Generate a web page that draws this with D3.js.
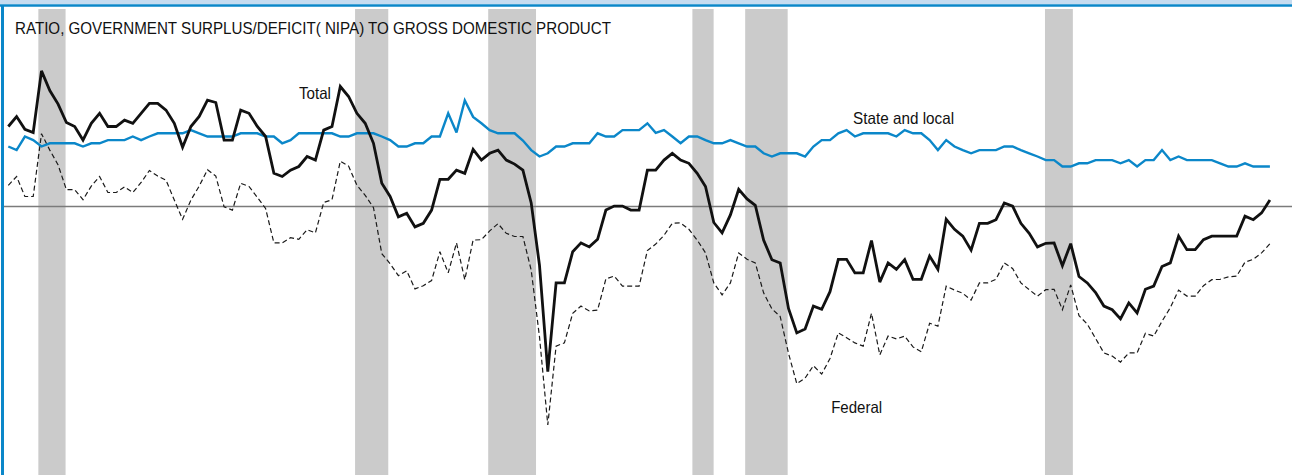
<!DOCTYPE html>
<html>
<head>
<meta charset="utf-8">
<script src="https://cdn.jsdelivr.net/npm/d3@7/dist/d3.min.js"></script>
<style>
  body { margin: 0; background: #fff; }
  svg { display: block; font-family: "Liberation Sans", Arial, Helvetica, sans-serif; }
</style>
</head>
<body>
<div id="chart"></div>
<script>
// quarterly ratios (percent of GDP), 1959Q2 .. 1997Q2, points at mid-quarter
var firstQuarterMid = 1959.375;

var totalValues = [
  2.00, 2.25, 1.93, 1.85, 3.39, 2.90, 2.56, 2.10, 2.00, 1.66,
  2.08, 2.33, 2.00, 2.00, 2.16, 2.08, 2.33, 2.58, 2.58, 2.41,
  2.08, 1.48, 2.00, 2.25, 2.66, 2.60, 1.66, 1.66, 2.41, 2.33,
  2.00, 1.75, 0.83, 0.75, 0.91, 1.00, 1.25, 1.16, 1.91, 2.00,
  3.00, 2.75, 2.33, 2.08, 1.58, 0.58, 0.25, -0.26, -0.17, -0.51,
  -0.42, -0.09, 0.68, 0.68, 0.91, 0.83, 1.43, 1.16, 1.33, 1.41,
  1.16, 1.06, 0.91, 0.09, -1.47, -4.13, -1.91, -1.91, -1.13, -0.91,
  -1.01, -0.82, -0.09, 0.01, 0.01, -0.09, -0.09, 0.91, 0.91, 1.16,
  1.33, 1.16, 1.08, 0.83, 0.50, -0.40, -0.66, -0.21, 0.43, 0.19,
  0.03, -0.84, -1.33, -1.41, -2.55, -3.16, -3.06, -2.49, -2.57, -2.13,
  -1.32, -1.32, -1.66, -1.66, -0.85, -1.89, -1.41, -1.57, -1.33, -1.82,
  -1.82, -1.24, -1.57, -0.32, -0.57, -0.74, -1.09, -0.42, -0.42, -0.33,
  0.09, 0.01, -0.42, -0.67, -1.01, -0.92, -0.91, -1.48, -0.93, -1.75,
  -1.91, -2.15, -2.49, -2.58, -2.81, -2.41, -2.66, -2.07, -1.99, -1.50,
  -1.41, -0.74, -1.08, -1.08, -0.83, -0.74, -0.74, -0.74, -0.74, -0.24,
  -0.33, -0.16, 0.16
];

var stateLocalValues = [
  1.50, 1.41, 1.75, 1.66, 1.50, 1.58, 1.58, 1.58, 1.58, 1.50,
  1.58, 1.58, 1.66, 1.66, 1.66, 1.75, 1.66, 1.75, 1.83, 1.83,
  1.83, 1.83, 1.91, 1.83, 1.75, 1.75, 1.75, 1.75, 1.83, 1.83,
  1.83, 1.75, 1.75, 1.58, 1.66, 1.83, 1.83, 1.83, 1.83, 1.83,
  1.75, 1.75, 1.83, 1.83, 1.83, 1.75, 1.66, 1.50, 1.50, 1.58,
  1.58, 1.75, 1.75, 2.33, 1.85, 2.65, 2.24, 2.08, 1.91, 1.83,
  1.83, 1.83, 1.65, 1.41, 1.25, 1.33, 1.50, 1.50, 1.58, 1.58,
  1.58, 1.83, 1.75, 1.75, 1.91, 1.91, 1.91, 2.08, 1.84, 1.91,
  1.75, 1.58, 1.75, 1.75, 1.66, 1.58, 1.58, 1.66, 1.58, 1.50,
  1.50, 1.33, 1.25, 1.33, 1.33, 1.33, 1.25, 1.50, 1.66, 1.66,
  1.83, 1.91, 1.75, 1.83, 1.83, 1.83, 1.83, 1.75, 1.91, 1.83,
  1.83, 1.66, 1.41, 1.66, 1.50, 1.41, 1.33, 1.41, 1.41, 1.41,
  1.50, 1.50, 1.41, 1.33, 1.25, 1.16, 1.16, 1.00, 1.00, 1.08,
  1.08, 1.16, 1.16, 1.16, 1.08, 1.16, 1.00, 1.16, 1.16, 1.41,
  1.16, 1.25, 1.16, 1.16, 1.16, 1.16, 1.08, 1.00, 1.00, 1.08,
  1.00, 1.00, 1.00
];

var federalValues = [
  0.53, 0.75, 0.25, 0.25, 1.82, 1.41, 1.04, 0.42, 0.42, 0.17,
  0.51, 0.75, 0.35, 0.35, 0.49, 0.35, 0.60, 0.90, 0.76, 0.66,
  0.16, -0.32, 0.16, 0.51, 0.92, 0.76, -0.01, -0.09, 0.58, 0.50,
  0.23, -0.05, -0.91, -0.91, -0.78, -0.82, -0.58, -0.66, 0.10, 0.17,
  1.13, 1.01, 0.53, 0.28, -0.03, -1.18, -1.43, -1.73, -1.61, -2.06,
  -1.98, -1.85, -1.13, -1.66, -0.91, -1.83, -0.84, -0.83, -0.61, -0.43,
  -0.67, -0.75, -0.75, -1.59, -3.26, -5.46, -3.49, -3.41, -2.67, -2.49,
  -2.61, -2.59, -1.81, -1.74, -1.99, -1.99, -1.99, -1.10, -0.94, -0.72,
  -0.42, -0.41, -0.57, -0.84, -1.16, -1.91, -2.21, -1.91, -1.16, -1.32,
  -1.41, -2.16, -2.56, -2.75, -3.67, -4.43, -4.29, -3.98, -4.19, -3.80,
  -3.16, -3.28, -3.41, -3.49, -2.67, -3.71, -3.24, -3.31, -3.24, -3.51,
  -3.63, -2.92, -2.99, -1.99, -2.09, -2.17, -2.34, -1.91, -1.91, -1.82,
  -1.41, -1.55, -1.91, -2.08, -2.24, -2.08, -2.07, -2.58, -1.96, -2.73,
  -2.94, -3.30, -3.66, -3.74, -3.89, -3.66, -3.66, -3.17, -3.24, -2.87,
  -2.53, -2.09, -2.24, -2.24, -1.98, -1.83, -1.82, -1.76, -1.74, -1.39,
  -1.32, -1.16, -0.93
];

// recessions, decimal years
var recessionStart = [1960.28, 1969.82, 1973.83, 1979.98, 1981.57, 1990.60];
var recessionEnd   = [1961.10, 1970.82, 1975.27, 1980.62, 1982.85, 1991.44];

var titleText = "RATIO, GOVERNMENT SURPLUS/DEFICIT( NIPA) TO GROSS DOMESTIC PRODUCT";
var labelText = ["Total", "State and local", "Federal"];
var labelYear = [1968.13, 1984.82, 1984.16];
var labelValue = [2.69, 2.075, -5.16];
var labelWidth = [32, 101, 51];

var width = 1292, height = 475;
var blue = "#0b87c9";

var quarters = totalValues.map(function(d, i){ return firstQuarterMid + i * 0.25; });

var x = d3.scaleLinear().domain([1959, 1998]).range([-4.15, 1290.65]);
var y = d3.scaleLinear().domain([-6, 5]).range([446.5, 6.5]);

var svg = d3.select("#chart").append("svg")
  .attr("width", width)
  .attr("height", height)
  .style("background", "#fff");

// recession shading
svg.append("g").selectAll("rect")
  .data(recessionStart)
  .join("rect")
  .attr("x", function(d){ return x(d); })
  .attr("width", function(d, i){ return x(recessionEnd[i]) - x(d); })
  .attr("y", 9)
  .attr("height", height - 9)
  .attr("fill", "#cbcbcb");

// zero line
svg.append("line")
  .attr("x1", 3).attr("x2", width)
  .attr("y1", y(0)).attr("y2", y(0))
  .attr("stroke", "#7b7b7b")
  .attr("stroke-width", 1.6);

function drawSeries(values, color, w, dash){
  var line = d3.line()
    .x(function(d, i){ return x(quarters[i]); })
    .y(function(d){ return y(d); });
  var p = svg.append("path")
    .datum(values)
    .attr("d", line)
    .attr("fill", "none")
    .attr("stroke", color)
    .attr("stroke-width", w)
    .attr("stroke-linejoin", "miter")
    .attr("stroke-miterlimit", 3);
  if (dash) p.attr("stroke-dasharray", dash);
  return p;
}

drawSeries(federalValues, "#1a1a1a", 1.2, "5,3");
drawSeries(stateLocalValues, blue, 2.4);
drawSeries(totalValues, "#111", 2.8);

// frame: light band + blue rule on top, blue rule on the left
svg.append("rect").attr("x", 0).attr("y", 0).attr("width", width).attr("height", 4).attr("fill", "#c6dcf0");
svg.append("line").attr("x1", 0).attr("x2", width).attr("y1", 5.5).attr("y2", 5.5)
  .attr("stroke", blue).attr("stroke-width", 2.5);
svg.append("line").attr("x1", 2.5).attr("x2", 2.5).attr("y1", 5).attr("y2", height)
  .attr("stroke", blue).attr("stroke-width", 3);

// narrow-ish sans, like the original's condensed face
svg.append("text")
  .attr("x", 15).attr("y", 33.5)
  .attr("font-size", 16.5)
  .attr("fill", "#111")
  .attr("textLength", 596)
  .attr("lengthAdjust", "spacingAndGlyphs")
  .text(titleText);

svg.append("g").selectAll("text")
  .data(labelText)
  .join("text")
  .attr("x", function(d, i){ return x(labelYear[i]); })
  .attr("y", function(d, i){ return y(labelValue[i]); })
  .attr("font-size", 16.5)
  .attr("fill", "#111")
  .attr("textLength", function(d, i){ return labelWidth[i]; })
  .attr("lengthAdjust", "spacingAndGlyphs")
  .text(function(d){ return d; });
</script>
</body>
</html>
